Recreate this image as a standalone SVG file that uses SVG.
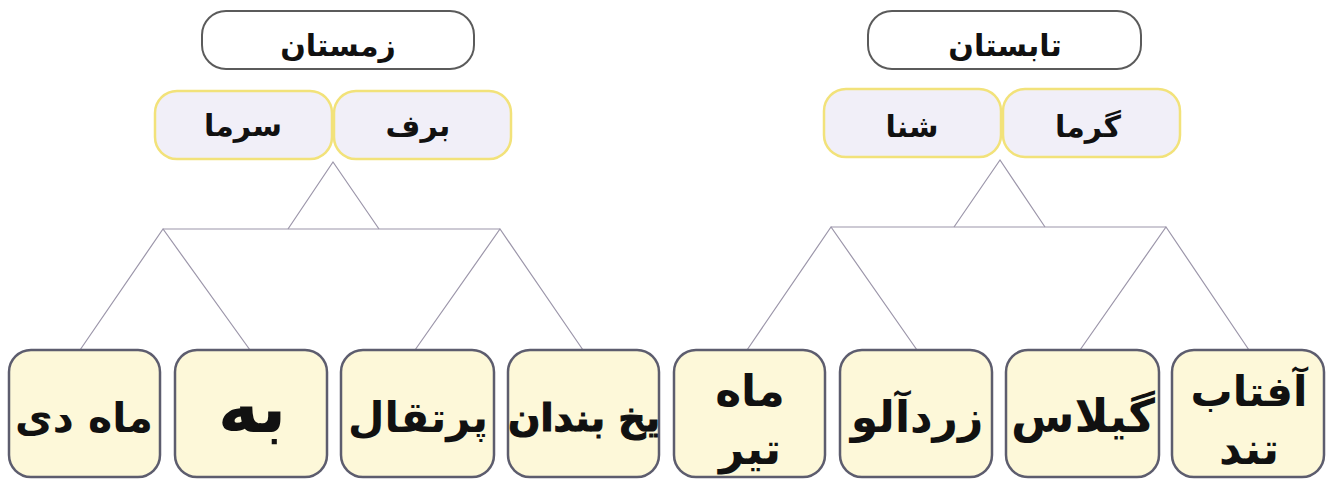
<svg xmlns="http://www.w3.org/2000/svg" width="1332" height="480" viewBox="0 0 1332 480">
<style>
.top{fill:#ffffff;stroke:#5b5b5b;stroke-width:2}
.mid{fill:#f1eff8;stroke:#f2e27a;stroke-width:2.5}
.leaf{fill:#fdf8d9;stroke:#5d5d6e;stroke-width:2.5}
.hand{font-family:"DejaVu Sans",sans-serif;font-size:30px;font-weight:bold;fill:#111;text-anchor:middle}
.big{font-family:"DejaVu Sans",sans-serif;font-weight:bold;fill:#111;text-anchor:middle}
.conn{stroke:#9c96aa;stroke-width:1.2;fill:none}
</style>
<rect width="1332" height="480" fill="#ffffff"/>
<g id="connectors">
<polyline class="conn" points="288,229 333,162 379,229"/>
<line class="conn" x1="163" y1="229" x2="500" y2="229"/>
<polyline class="conn" points="80,350 163,229 250,350"/>
<polyline class="conn" points="415,350 500,229 583,350"/>
<polyline class="conn" points="954,227 1000,160 1045,227"/>
<line class="conn" x1="831" y1="227" x2="1166" y2="227"/>
<polyline class="conn" points="747,350 831,227 917,350"/>
<polyline class="conn" points="1080,350 1166,227 1249,350"/>
</g>
<g id="winter">
<rect class="top" x="202" y="11" width="272" height="58" rx="24"/>
<text class="hand" x="338" y="56">زمستان</text>
</g>
<g id="cold">
<rect class="mid" x="155" y="91" width="177" height="68" rx="22"/>
<text class="hand" x="243" y="136">سرما</text>
</g>
<g id="snow">
<rect class="mid" x="334" y="91" width="177" height="68" rx="22"/>
<text class="hand" x="418" y="136">برف</text>
</g>
<g id="summer">
<rect class="top" x="868" y="11" width="273" height="58" rx="24"/>
<text class="hand" x="1005" y="56">تابستان</text>
</g>
<g id="swim">
<rect class="mid" x="824" y="89" width="177" height="68" rx="22"/>
<text class="hand" x="912" y="137">شنا</text>
</g>
<g id="heat">
<rect class="mid" x="1003" y="89" width="177" height="68" rx="22"/>
<text class="hand" x="1088" y="137">گرما</text>
</g>
<g id="dey">
<rect class="leaf" x="9" y="350" width="151" height="127" rx="22"/>
<text class="big" x="84" y="432" style="font-size:41px">ماه دی</text>
</g>
<g id="quince">
<rect class="leaf" x="175" y="350" width="152" height="127" rx="22"/>
<text class="big" x="252" y="432" style="font-size:70px">به</text>
</g>
<g id="orange">
<rect class="leaf" x="341" y="350" width="153" height="127" rx="22"/>
<text class="big" x="418" y="432" style="font-size:42px">پرتقال</text>
</g>
<g id="freeze">
<rect class="leaf" x="508" y="350" width="151" height="127" rx="22"/>
<text class="big" x="584" y="431" style="font-size:38px;stroke:#111;stroke-width:1.2">یخ بندان</text>
</g>
<g id="tir">
<rect class="leaf" x="674" y="350" width="151" height="127" rx="22"/>
<text class="big" x="750" y="406" style="font-size:44px">ماه</text>
<text class="big" x="750" y="464" style="font-size:44px">تیر</text>
</g>
<g id="apricot">
<rect class="leaf" x="840" y="350" width="152" height="127" rx="22"/>
<text class="big" x="917" y="432" style="font-size:44px">زردآلو</text>
</g>
<g id="cherry">
<rect class="leaf" x="1006" y="350" width="153" height="127" rx="22"/>
<text class="big" x="1083" y="432" style="font-size:46px">گیلاس</text>
</g>
<g id="sun">
<rect class="leaf" x="1172" y="350" width="152" height="127" rx="22"/>
<text class="big" x="1249" y="406" style="font-size:42px">آفتاب</text>
<text class="big" x="1249" y="464" style="font-size:44px">تند</text>
</g>
</svg>
